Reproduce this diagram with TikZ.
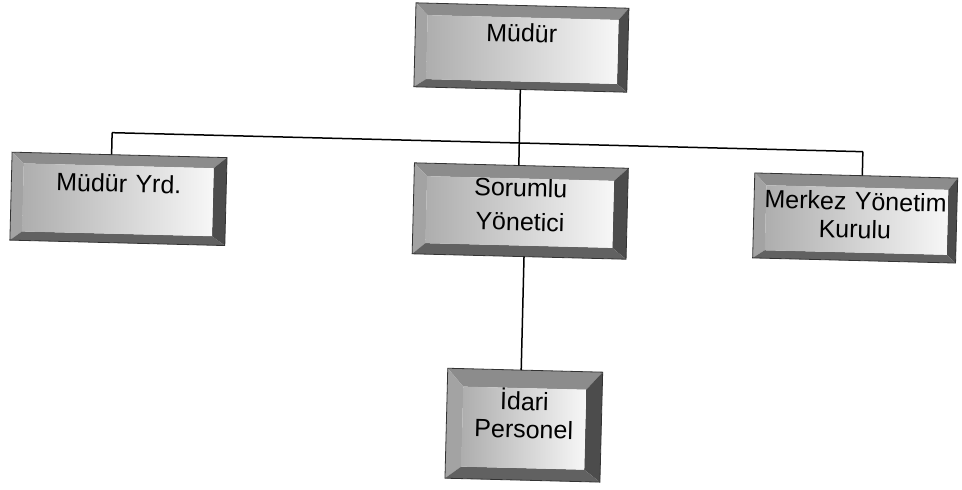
\documentclass[tikz,border=0pt]{standalone}
\usepackage{fontspec}
\setmainfont{Liberation Sans}
\usetikzlibrary{calc}
\pgfdeclarelayer{bg}
\pgfdeclarelayer{bevel}
\pgfsetlayers{bg,bevel,main}
\tikzset{
  boxnode/.style={rectangle, inner sep=0pt, outer sep=0pt, align=center,
    font=\fontsize{12.5}{14}\selectfont, text=black},
  link/.style={line width=0.75pt, black},
  bvtop/.style={fill=black!45},
  bvleft/.style={fill=black!36},
  bvright/.style={fill=black!70},
  bvbottom/.style={fill=black!62},
  face/.style={left color=black!32, right color=black!3},
  rim/.style={draw=black!80, line width=0.4pt},
}
\newcommand\bevelbox[5]{%
  \coordinate (#1-inw) at ($(#1.north west)+(#3,#2)$);
  \coordinate (#1-ine) at ($(#1.north east)+(-#4,#2)$);
  \coordinate (#1-ise) at ($(#1.south east)+(-#4,-#5)$);
  \coordinate (#1-isw) at ($(#1.south west)+(#3,-#5)$);
  \fill[bvtop] (#1.north west) -- (#1.north east) -- (#1-ine) -- (#1-inw) -- cycle;
  \fill[bvleft] (#1.north west) -- (#1-inw) -- (#1-isw) -- (#1.south west) -- cycle;
  \fill[bvright] (#1.north east) -- (#1.south east) -- (#1-ise) -- (#1-ine) -- cycle;
  \fill[bvbottom] (#1.south west) -- (#1-isw) -- (#1-ise) -- (#1.south east) -- cycle;
  \shade[face] (#1-inw) -- (#1-ine) -- (#1-ise) -- (#1-isw) -- cycle;
  \draw[rim] (#1.north west) -- (#1.north east) -- (#1.south east) -- (#1.south west) -- cycle;
}
\begin{document}
\begin{tikzpicture}[x=0.5pt,y=-0.5pt]
\begin{pgfonlayer}{bg}
  \fill[white] (0,0) rectangle (962,489);
\end{pgfonlayer}
\useasboundingbox (0,0) rectangle (962,489);
\begin{scope}[rotate=-1.45, transform shape]
  \node[boxnode, text width=106.5pt, text height=18.25pt, text depth=23.75pt] (mudur) at (522.45,34.3) {Müdür};
  \node[boxnode, text width=107.5pt, text height=18.6pt, text depth=25.4pt] (yrd) at (123.45,195.8) {Müdür Yrd.};
  \node[boxnode, text width=107pt, text height=15.5pt, text depth=30pt] (sor) at (525.45,197.8) {Sorumlu\\[3pt]Yönetici};
  \node[boxnode, text width=101.5pt, text height=17.25pt, text depth=25.25pt] (merkez) at (860.45,196.3) {Merkez Yönetim\\Kurulu};
  \node[boxnode, text width=77.5pt, text height=20pt, text depth=35pt] (idari) at (534.45,411.8) {İdari\\Personel};

  \begin{pgfonlayer}{bevel}
    \bevelbox{mudur}{12}{12}{10}{8}
    \bevelbox{yrd}{11}{12}{13}{9}
    \bevelbox{sor}{13}{13}{14}{11}
    \bevelbox{merkez}{12}{12}{9}{8}
    \bevelbox{idari}{18}{16}{16}{12}
  \end{pgfonlayer}

  \coordinate (busL) at (115.45,129.8);
  \coordinate (busR) at (866.45,129.8);
  \draw[link] (busL) -- (busR);
  \draw[link] (mudur.south) -- ($(sor.north west)!0.488!(sor.north east)$);
  \draw[link] (busL) -- ($(yrd.north west)!0.463!(yrd.north east)$);
  \draw[link] (busR) -- ($(merkez.north west)!0.53!(merkez.north east)$);
  \draw[link] ($(sor.south west)!0.523!(sor.south east)$) -- ($(idari.north west)!0.474!(idari.north east)$);
\end{scope}
\end{tikzpicture}
\end{document}
